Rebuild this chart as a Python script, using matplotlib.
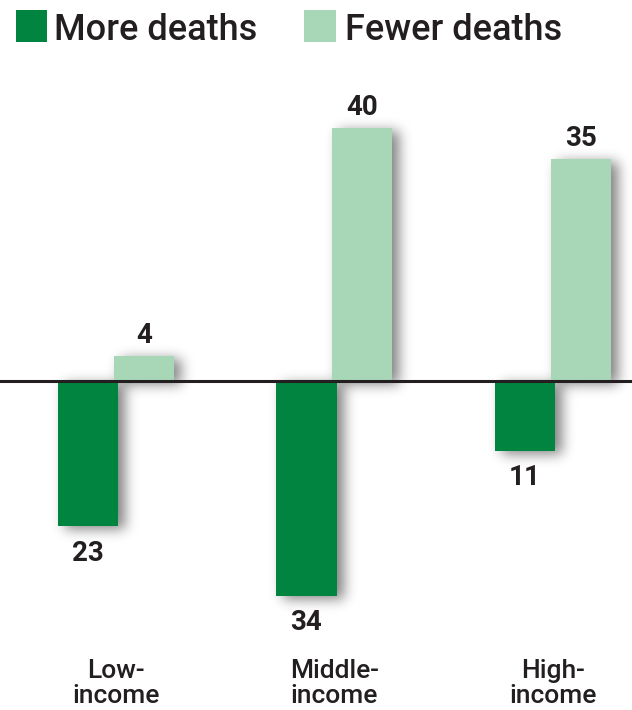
import numpy as np
import matplotlib
matplotlib.use("Agg")
import matplotlib.pyplot as plt
from matplotlib.patches import Rectangle

# income groups and percentage of countries with more / fewer deaths
groups = ["Low-\nincome", "Middle-\nincome", "High-\nincome"]
more_deaths = [23, 34, 11]
fewer_deaths = [4, 40, 35]
series_names = ["More deaths", "Fewer deaths"]

DARK = "#00843f"
LIGHT = "#a8d7b8"
INK = "#231f20"

plt.rcParams["font.family"] = ["Roboto", "DejaVu Sans"]

W, H = 632, 710
XLIM = (-0.531, 2.362)
YLIM = (-52.0, 60.2)

fig = plt.figure(figsize=(W / 100, H / 100), dpi=100, facecolor="white")
ax = fig.add_axes([0, 0, 1, 1])
ax.set_xlim(*XLIM)
ax.set_ylim(*YLIM)
ax.axis("off")

x = np.arange(len(groups))
width = 0.275
off = 0.128

neg = [-v for v in more_deaths]
dark = ax.bar(x - off, neg, width, color=DARK, zorder=3)
light = ax.bar(x + off, fewer_deaths, width, color=LIGHT, zorder=2)
ax.axhline(0, color=INK, lw=2.2, zorder=4)


def gauss_blur(a, sigma):
    r = int(3 * sigma)
    k = np.exp(-0.5 * (np.arange(-r, r + 1) / sigma) ** 2)
    k /= k.sum()
    a = np.apply_along_axis(lambda v: np.convolve(v, k, mode="same"), 0, a)
    return np.apply_along_axis(lambda v: np.convolve(v, k, mode="same"), 1, a)


# soft drop shadow under every bar, offset to the lower right
fig.canvas.draw()
mask = np.zeros((H, W))
sx, sy = 7, 3
for p in list(dark.patches) + list(light.patches):
    bb = p.get_window_extent()
    c0, c1 = int(round(bb.x0)) + sx, int(round(bb.x1)) + sx
    r0, r1 = H - int(round(bb.y1)) + sy, H - int(round(bb.y0)) + sy
    mask[max(r0, 0):min(r1, H), max(c0, 0):min(c1, W)] = 1
mask = gauss_blur(mask, 6.5)
shade = np.zeros((H, W, 4))
shade[..., 3] = mask * 0.5
ax.imshow(shade, extent=(*XLIM, *YLIM), origin="upper", aspect="auto",
          interpolation="none", zorder=1)
ax.set_xlim(*XLIM)
ax.set_ylim(*YLIM)

for xc, v in zip(x - off, more_deaths):
    ax.annotate(str(v), (xc, -v), xytext=(0, -24.5), textcoords="offset points",
                ha="center", va="baseline", fontsize=20, fontweight="bold", color=INK)
for xc, v in zip(x + off, fewer_deaths):
    ax.annotate(str(v), (xc, v), xytext=(0, 9.4), textcoords="offset points",
                ha="center", va="baseline", fontsize=20, fontweight="bold", color=INK)

# category names under each group; baseline of the last line
tr = ax.get_xaxis_transform()
for xc, name in zip(x, groups):
    ax.text(xc, 1 - 703 / H, name, transform=tr, ha="center", va="baseline",
            fontsize=19, fontweight="medium", color=INK, linespacing=1.06)

# legend row along the top
for (x0, x1), col, (tx, name) in zip([(16, 47), (304, 336)], [DARK, LIGHT],
                                     [(54, series_names[0]), (345, series_names[1])]):
    fig.add_artist(Rectangle((x0 / W, 1 - 42 / H), (x1 - x0) / W, 32 / H,
                             transform=fig.transFigure, facecolor=col, edgecolor="none"))
    fig.text(tx / W, 1 - 40 / H, name, fontsize=26, fontweight="medium", color=INK,
             ha="left", va="baseline")

fig.savefig("out.png", dpi=100, facecolor="white")
